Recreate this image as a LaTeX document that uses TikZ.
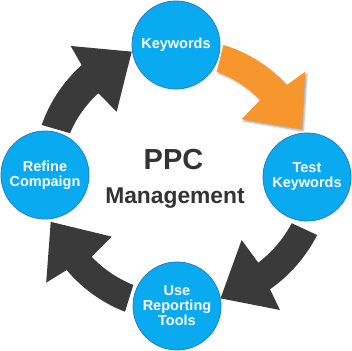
\documentclass[tikz,border=0pt]{standalone}
\usepackage{fontspec}
\setmainfont{Liberation Sans}
\usetikzlibrary{shadows.blur}
\definecolor{ringblue}{RGB}{10,170,240}
\definecolor{ringedge}{RGB}{25,130,200}
\definecolor{arrdark}{RGB}{58,58,58}
\definecolor{arrorange}{RGB}{247,150,45}
\definecolor{txtdark}{RGB}{51,51,51}
\tikzset{
  stage/.style={circle, fill=ringblue, draw=ringedge, line width=0.8pt,
    minimum size=88pt, inner sep=0pt, align=center, text=white,
    font=\fontsize{14.5}{15}\selectfont\bfseries},
  darkarrow/.style={fill=arrdark},
  orangearrow/.style={fill=arrorange,
    blur shadow={shadow xshift=1.8pt, shadow yshift=-1.8pt,
      shadow blur radius=1.8pt, shadow opacity=35}},
  centertext/.style={text=txtdark, anchor=base, inner sep=0pt}
}
\begin{document}
\begin{tikzpicture}[x=1pt,y=1pt]
\useasboundingbox (-176,-174) rectangle (176,176);
% orange arrow: Keywords -> Test Keywords
\fill[orangearrow] plot[domain=68.7:42.1,samples=25] (\x:{112+(113.3-112)*(\x-68.7)/(42.1-68.7)})
  -- (40.8:86.8) -- (20.4:134) -- (38.9:165.9)
  -- plot[domain=39.4:70.1,samples=25] (\x:{143.3+(139.3-143.3)*(\x-39.4)/(70.1-39.4)}) -- cycle;
% Test Keywords -> Use Reporting Tools
\fill[darkarrow] plot[domain=-22.2:-46.5,samples=25] (\x:{125+(119.5-125)*(\x+22.2)/(-46.5+22.2)})
  -- (-44.3:91.7) -- (-70:130.2) -- (-52.2:169.6)
  -- plot[domain=-50.3:-22.7,samples=25] (\x:{147.2+(153-147.2)*(\x+50.3)/(-22.7+50.3)}) -- cycle;
% Use Reporting Tools -> Refine Compaign
\fill[darkarrow] plot[domain=248.6:223.7,samples=25] (\x:{117+(116.7-117)*(\x-248.6)/(223.7-248.6)})
  -- (223.3:88.4) -- (200.1:133.4) -- (219.4:168)
  -- plot[domain=220.7:249.4,samples=25] (\x:{144.2+(145-144.2)*(\x-220.7)/(249.4-220.7)}) -- cycle;
% Refine Compaign -> Keywords
\fill[darkarrow] plot[domain=158:133.2,samples=25] (\x:{114.3+(113.5-114.3)*(\x-158)/(133.2-158)})
  -- (132.7:87.5) -- (109.6:132) -- (129:167.3)
  -- plot[domain=130.4:159.2,samples=25] (\x:{145.6+(143.7-145.6)*(\x-130.4)/(159.2-130.4)}) -- cycle;
% stages
\node[stage] (kw) at (0,131) {Keywords};
\node[stage] (test) at (131,-1) {Test\\Keywords};
\node[stage] (use) at (1,-130) {Use\\Reporting\\Tools};
\node[stage] (refine) at (-131,1) {Refine\\Compaign};
% centre text
\node[centertext, font=\fontsize{29}{30}\selectfont\bfseries] (ppc) at (-2.5,6) {PPC};
\node[centertext, font=\fontsize{22.8}{24}\selectfont\bfseries] (mgmt) at (-1,-27.3) {Management};
\end{tikzpicture}
\end{document}
